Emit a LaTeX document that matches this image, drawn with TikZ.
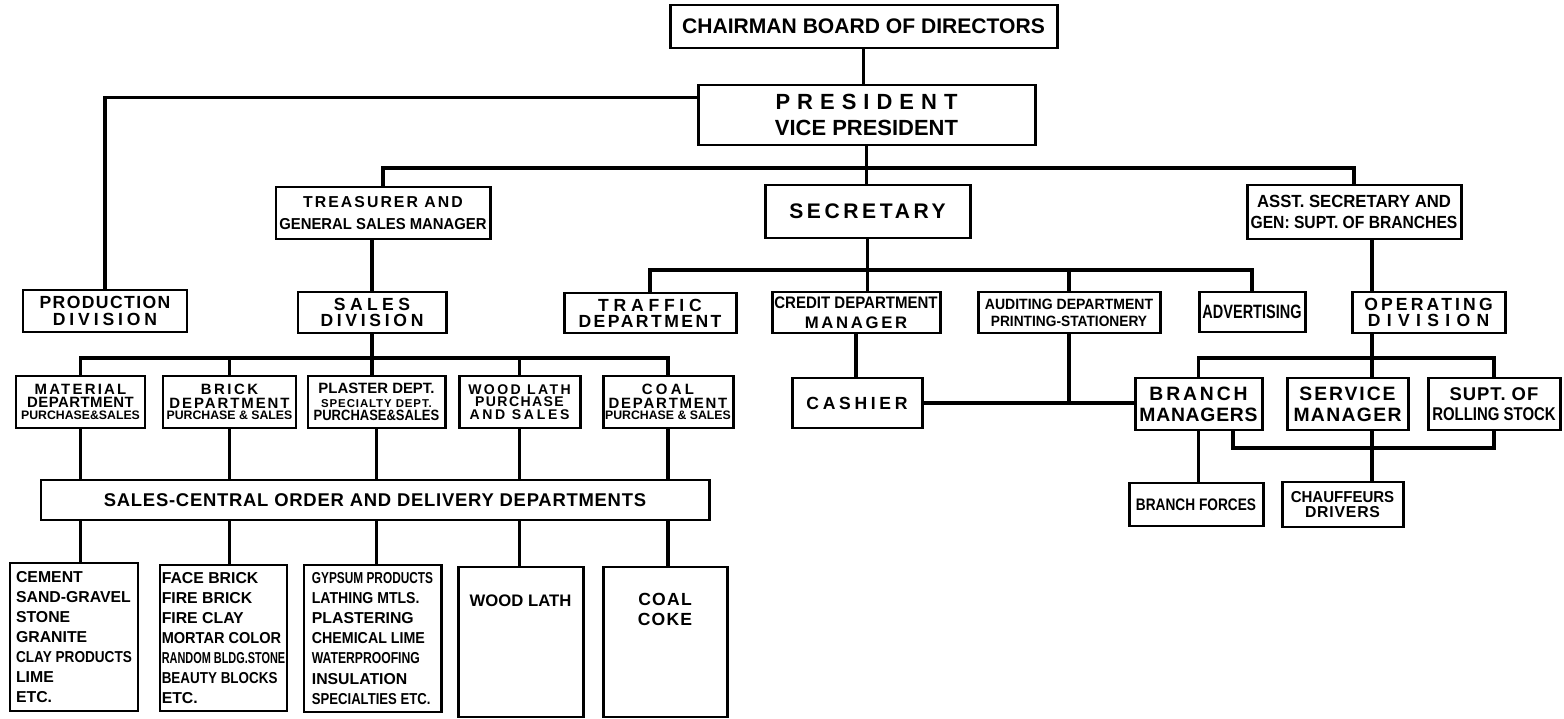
\documentclass[tikz,border=0pt]{standalone}
\usepackage{fontspec}
\setmainfont{Liberation Sans}
\usetikzlibrary{calc}
\newcommand\hand[2]{\bfseries\fontsize{#1}{#2}\selectfont}
\newcommand\sq[2]{{\addfontfeature{FakeStretch=#1}#2}}
\newcommand\spc[2]{{\addfontfeature{LetterSpace=#1}#2}}
\tikzset{
  box/.style={draw, line width=1.7pt, inner sep=1pt, align=center},
  sz/.style 2 args={minimum width=#1*0.02cm, minimum height=#2*0.02cm},
  con/.style={line width=2.2pt},
}
\begin{document}
\begin{tikzpicture}[x=0.02cm,y=-0.02cm,line join=miter]
\useasboundingbox[fill=white] (0,0) rectangle (1564,719);
% top of the chart
\node[box, sz={387}{43}, font=\hand{12}{14}] (chair) at (863.5,26.5) {CHAIRMAN BOARD OF DIRECTORS};
\node[box, sz={337}{60}, font=\hand{12.5}{14.5}] (pres) at (866.5,115) {\spc{32}{PRESIDENT}\\VICE PRESIDENT};
\node[box, sz={214}{52}, font=\hand{9}{12.5}] (treas) at (383,213) {\spc{13}{TREASURER AND}\\\sq{0.94}{GENERAL SALES MANAGER}};
\node[box, sz={205}{53}, font=\hand{12}{14}] (secr) at (867.5,211.5) {\spc{17}{SECRETARY}};
\node[box, sz={214}{54}, font=\hand{10}{12}] (asst) at (1354,212) {\sq{0.95}{ASST. SECRETARY AND}\\\sq{0.89}{GEN: SUPT. OF BRANCHES}};
% divisions and departments
\node[box, sz={164}{42}, font=\hand{10}{9.2}] (prod) at (105,311) {\spc{8}{PRODUCTION}\\\spc{22}{DIVISION}};
\node[box, sz={148}{41}, font=\hand{10}{9.2}] (sales) at (372,312.5) {\spc{25}{SALES}\\\spc{21}{DIVISION}};
\node[box, sz={172}{40}, font=\hand{10}{9.2}] (traffic) at (650,313) {\spc{27}{TRAFFIC}\\\spc{14}{DEPARTMENT}};
\node[box, sz={168}{41}, font=\hand{9.5}{11.4}] (credit) at (856,312.5) {\sq{0.9}{CREDIT DEPARTMENT}\\\spc{16}{MANAGER}};
\node[box, sz={182}{41}, font=\hand{8.5}{9.7}] (audit) at (1069,312.5) {\sq{0.94}{AUDITING DEPARTMENT}\\\sq{0.92}{PRINTING-STATIONERY}};
\node[box, sz={106}{40}, font=\hand{11}{12}] (advert) at (1252,312) {\sq{0.75}{ADVERTISING}};
\node[box, sz={153}{41}, font=\hand{10}{9.2}] (oper) at (1428.5,312.5) {\spc{18}{OPERATING}\\\spc{36}{DIVISION}};
% sales departments
\node[box, sz={129}{52}, font=\hand{8.5}{7.8}] (material) at (80.5,402) {\spc{15}{MATERIAL}\\\spc{3}{DEPARTMENT}\\[-1pt]{\fontsize{7}{8}\selectfont PURCHASE\&SALES}};
\node[box, sz={133}{52}, font=\hand{8.5}{7.8}] (brick) at (229.5,402) {\spc{17}{BRICK}\\\spc{13}{DEPARTMENT}\\[-1pt]{\fontsize{7}{8}\selectfont PURCHASE \& SALES}};
\node[box, sz={137}{52}, font=\hand{8.5}{7.8}] (plaster) at (376.5,402) {PLASTER DEPT.\\{\fontsize{6.5}{8}\selectfont\spc{8}{SPECIALTY DEPT.}}\\\sq{0.87}{PURCHASE\&SALES}};
\node[box, sz={121}{52}, font=\hand{8}{7}] (wlath) at (519.5,402) {\spc{17}{WOOD LATH}\\\spc{10}{PURCHASE}\\\spc{19}{AND SALES}};
\node[box, sz={130}{52}, font=\hand{8.5}{7.6}] (coaldept) at (668,402) {\spc{22}{COAL}\\\spc{12}{DEPARTMENT}\\[-1pt]{\fontsize{7}{8}\selectfont PURCHASE \& SALES}};
\node[box, sz={130}{50}, font=\hand{10}{12}] (cashier) at (857,403) {\spc{21}{CASHIER}};
\node[box, sz={127}{52}, font=\hand{11}{12}] (bmgr) at (1198.5,404) {\spc{15}{BRANCH}\\\spc{4}{MANAGERS}};
\node[box, sz={121}{52}, font=\hand{11}{12}] (service) at (1347.5,404) {\spc{10}{SERVICE}\\\spc{7}{MANAGER}};
\node[box, sz={132}{52}, font=\hand{10.5}{11.5}] (supt) at (1494,404) {\spc{5}{SUPT. OF}\\\sq{0.81}{ROLLING STOCK}};
\node[box, sz={668}{40}, font=\hand{10.5}{12}] (central) at (375,500) {\spc{4}{SALES-CENTRAL ORDER AND DELIVERY DEPARTMENTS}};
\node[box, sz={134}{43}, font=\hand{9.5}{11}] (bforces) at (1196,504.5) {\sq{0.82}{BRANCH FORCES}};
\node[box, sz={121}{45}, font=\hand{9}{8.6}] (chauf) at (1342.5,504.5) {\sq{0.95}{CHAUFFEURS}\\\spc{5}{DRIVERS}};
% materials
\node[box, sz={128}{148}, font=\hand{9}{11.4}, align=left] (cement) at (74,637) {CEMENT\\SAND-GRAVEL\\STONE\\GRANITE\\\sq{0.86}{CLAY PRODUCTS}\\LIME\\ETC.};
\node[box, sz={127}{146}, font=\hand{9}{11.4}, align=left] (facebrick) at (223.5,638) {FACE BRICK\\FIRE BRICK\\FIRE CLAY\\\sq{0.92}{MORTAR COLOR}\\\sq{0.69}{RANDOM BLDG.STONE}\\\sq{0.85}{BEAUTY BLOCKS}\\ETC.};
\node[box, sz={137}{147}, font=\hand{9}{11.4}, align=left] (gypsum) at (372.5,638.5) {\sq{0.75}{GYPSUM PRODUCTS}\\\sq{0.89}{LATHING MTLS.}\\PLASTERING\\\sq{0.9}{CHEMICAL LIME}\\\sq{0.77}{WATERPROOFING}\\INSULATION\\\sq{0.83}{SPECIALTIES ETC.}};
\node[box, sz={125}{150}, font=\hand{9.5}{11}] (wlathb) at (520.5,642) {\parbox[c][2.8cm][t]{2.3cm}{\centering\vspace{0.46cm}WOOD LATH}};
\node[box, sz={124}{150}, font=\hand{10}{11.4}] (coalcoke) at (665,642) {\parbox[c][2.8cm][t]{2.3cm}{\centering\vspace{0.42cm}\spc{7}{COAL}\\\spc{7}{COKE}}};
% bus points
\coordinate (mbus) at (866,168);
\coordinate (secbus) at (866,270);
\coordinate (salbus) at (372,358);
\coordinate (opbus) at (1372,358);
\coordinate (lowbus) at (1372,448);
\begin{scope}[con]
\draw (chair.south) -- (chair.south |- pres.north);
\draw (pres.north west) ++(0,14) -| (prod.north);
\draw (pres.south) -- (pres.south |- secr.north);
\draw (treas.north) |- (mbus) -| (asst.north);
\draw (sales.north |- treas.south) -- (sales.north);
\draw (secr.south) -- (secr.south |- credit.north);
\draw (traffic.north) |- (secbus) -| (advert.north);
\draw (audit.north) -- (audit.north |- secbus);
\draw (credit.south) -- (credit.south |- cashier.north);
\draw (audit.south) -- (audit.south |- cashier.east);
\draw (cashier.east) -- (cashier.east -| bmgr.west);
\draw ([xshift=0.36cm]asst.south) coordinate (aso) -- (aso |- oper.north);
\draw (oper.south -| opbus) -- (service.north -| opbus);
\draw (bmgr.north) |- (opbus) -| (supt.north);
\draw ([xshift=0.69cm]bmgr.south) |- (lowbus) -| (supt.south);
\draw (service.south -| lowbus) -- (chauf.north -| lowbus);
\draw (bmgr.south) -- (bmgr.south |- bforces.north);
\draw (sales.south) -- (sales.south |- plaster.north);
\draw (material.north) |- (salbus) -| (coaldept.north);
\draw (brick.north) -- (brick.north |- salbus);
\draw (wlath.north) -- (wlath.north |- salbus);
\foreach \d/\p in {material/cement, brick/facebrick, plaster/gypsum, wlath/wlathb, coaldept/coalcoke}{
  \draw (\d.south) -- (\d.south |- central.north);
  \draw (\d.south |- central.south) -- (\d.south |- \p.north);
}
\end{scope}
\end{tikzpicture}
\end{document}
